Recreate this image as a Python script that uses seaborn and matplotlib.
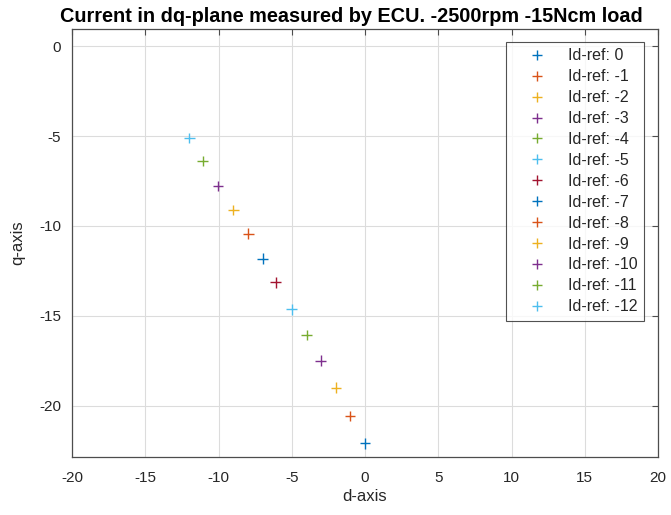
import matplotlib
matplotlib.use("Agg")
import matplotlib.pyplot as plt
import seaborn as sns
import pandas as pd

# Data
id_ref = [0, -1, -2, -3, -4, -5, -6, -7, -8, -9, -10, -11, -12]
d_vals = [0.0, -1.02, -1.98, -3.02, -3.98, -5.0, -6.1, -6.98, -7.96, -8.99, -10.03, -11.08, -12.0]
q_vals = [-22.09, -20.57, -19.0, -17.5, -16.06, -14.63, -13.13, -11.83, -10.44, -9.11, -7.78, -6.39, -5.11]
labels = [f"Id-ref: {v}" for v in id_ref]

matlab_colors = ["#0072BD", "#D95319", "#EDB120", "#7E2F8E", "#77AC30", "#4DBEEE", "#A2142F"]
palette = {lab: matlab_colors[i % 7] for i, lab in enumerate(labels)}

sns.set_style("white")
plt.rcParams['font.family'] = ['Liberation Sans', 'DejaVu Sans']
plt.rcParams['axes.unicode_minus'] = False

df = pd.DataFrame({"d": d_vals, "q": q_vals, "label": labels})

fig = plt.figure(figsize=(6.71, 5.15), dpi=100)
ax = fig.add_axes([72/671, 1 - 457/515, (658-72)/671, (457-29)/515])

sns.scatterplot(data=df, x="d", y="q", hue="label", hue_order=labels,
                palette=palette, marker="+", s=60, linewidth=1.0, ax=ax, legend=True)

ax.set_xlim(-20, 20)
ax.set_ylim(-22.85, 0.95)
ax.set_xticks(range(-20, 21, 5))
ax.set_yticks(range(-20, 1, 5))
ax.grid(True, color="#dcdcdc", linewidth=0.8)
ax.set_axisbelow(True)
for s in ax.spines.values():
    s.set_color("#4d4d4d")
    s.set_linewidth(0.9)
ax.tick_params(direction="in", length=4, width=0.8, color="#4d4d4d",
               top=True, right=True, labelsize=11, labelcolor="#262626")
ax.tick_params(axis="x", pad=10)
ax.tick_params(axis="y", pad=8)

ax.set_xlabel("d-axis", fontsize=12, color="#262626", labelpad=3)
ax.set_ylabel("q-axis", fontsize=12, color="#262626", labelpad=10)
ax.set_title("Current in dq-plane measured by ECU. -2500rpm -15Ncm load",
             fontsize=14.3, fontweight="bold", color="black", pad=5, x=0.477)

handles, labs = ax.get_legend_handles_labels()
leg = ax.legend(handles, labs, loc="upper right",
                bbox_to_anchor=((644 - 72) / 586, (457 - 42) / 428),
                fontsize=11.5, frameon=True, fancybox=False, edgecolor="#262626",
                labelspacing=0.37, handletextpad=0.41, borderpad=0.4,
                handlelength=3.07, borderaxespad=0.0)
leg.get_frame().set_linewidth(0.8)

fig.savefig("out.png", dpi=100)
